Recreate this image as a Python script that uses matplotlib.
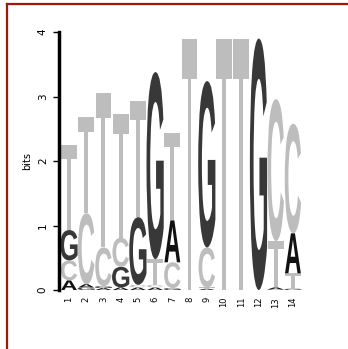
import matplotlib
matplotlib.use("Agg")
import matplotlib.pyplot as plt
import matplotlib.transforms as mtransforms
from matplotlib.font_manager import FontProperties
from matplotlib.lines import Line2D
from matplotlib.patches import PathPatch
from matplotlib.textpath import TextPath

# information content (bits) per position
positions = list(range(1, 15))
a_bits = [0.15, 0.05, 0.03, 0.04, 0.04, 0.04, 0.65, 0.0, 0.02, 0.0, 0.0, 0.0, 0.03, 0.62]
c_bits = [0.31, 1.10, 0.60, 0.45, 0.04, 0.04, 0.40, 0.0, 0.62, 0.0, 0.0, 0.0, 2.20, 1.70]
g_bits = [0.47, 0.04, 0.03, 0.32, 1.05, 2.90, 0.03, 0.0, 2.58, 0.0, 0.0, 3.90, 0.01, 0.02]
t_bits = [1.32, 1.50, 2.40, 1.92, 1.80, 0.40, 1.35, 3.90, 0.02, 3.90, 3.90, 0.0, 0.72, 0.24]
y_ticks = [0, 1, 2, 3, 4]

letter_colors = {"A": "#111111", "C": "#bdbdbd", "G": "#383838", "T": "#bdbdbd"}
letter_widths = {"A": 0.92, "C": 0.95, "G": 1.0, "T": 0.92}
font = FontProperties(family="Liberation Sans", weight="bold")


def draw_letter(ax, letter, x, y, w, h, color):
    tp = TextPath((0, 0), letter, size=1, prop=font)
    bb = tp.get_extents()
    t = (mtransforms.Affine2D()
         .translate(-bb.x0, -bb.y0)
         .scale(w / bb.width, h / bb.height)
         .translate(x - w / 2, y))
    ax.add_patch(PathPatch(t.transform_path(tp), facecolor=color, edgecolor="none"))


fig = plt.figure(figsize=(3.48, 3.49), dpi=100)
ax = fig.add_axes([0.1695, 0.169, 0.697, 0.739])

for i, pos in enumerate(positions):
    col = [("A", a_bits[i]), ("C", c_bits[i]), ("G", g_bits[i]), ("T", t_bits[i])]
    col = sorted([c for c in col if c[1] > 0], key=lambda c: c[1])
    base = 0.0
    for letter, h in col:
        draw_letter(ax, letter, pos, base, letter_widths[letter], h, letter_colors[letter])
        base += h

ax.set_xlim(0.42, 14.5)
ax.set_ylim(0, 4)
ax.set_xticks(positions)
ax.set_xticklabels([str(p) for p in positions], rotation=90, fontsize=6)
ax.set_yticks(y_ticks)
ax.set_yticklabels([str(v) for v in y_ticks], rotation=90, fontsize=7.5, va="center")
ax.tick_params(axis="x", length=0, pad=5)
ax.tick_params(axis="y", length=4, width=1, pad=4)
ax.set_ylabel("bits", fontsize=7, labelpad=4)
for side in ["top", "right", "bottom"]:
    ax.spines[side].set_visible(False)
ax.spines["left"].set_linewidth(2.5)

# dark red frame lines along the top and left edges
fig.add_artist(Line2D([7 / 348, 1], [1 - 4 / 349, 1 - 4 / 349], color="#a01808", lw=1.6,
                      transform=fig.transFigure))
fig.add_artist(Line2D([7 / 348, 7 / 348], [0, 1 - 4 / 349], color="#a01808", lw=1.6,
                      transform=fig.transFigure))

fig.savefig("out.png", dpi=100)
